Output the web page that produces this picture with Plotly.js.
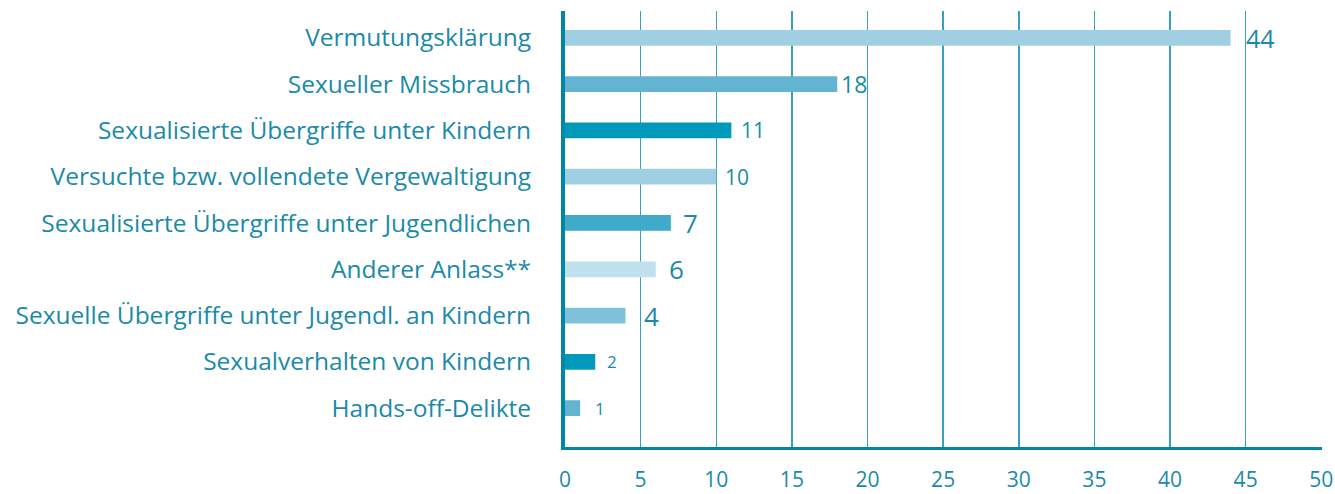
<!DOCTYPE html>
<html><head><meta charset="utf-8">
<script src="https://cdn.plot.ly/plotly-3.0.1.min.js"></script>
<style>html,body{margin:0;padding:0;background:#fff}#c{width:1335px;height:494px}</style>
</head><body><div id="c"></div>
<script>
const categories = [
  "Vermutungsklärung",
  "Sexueller Missbrauch",
  "Sexualisierte Übergriffe unter Kindern",
  "Versuchte bzw. vollendete Vergewaltigung",
  "Sexualisierte Übergriffe unter Jugendlichen",
  "Anderer Anlass**",
  "Sexuelle Übergriffe unter Jugendl. an Kindern",
  "Sexualverhalten von Kindern",
  "Hands-off-Delikte"
];
const values = [44, 18, 11, 10, 7, 6, 4, 2, 1];
const tickValues = [0, 5, 10, 15, 20, 25, 30, 35, 40, 45, 50];
const tickLabels = ["0", "5", "10", "15", "20", "25", "30", "35", "40", "45", "50"];

// styles
const barColors = ["#a0cfe3", "#62b4d0", "#0099bc", "#a0cfe3", "#40aacb", "#bfe0ed", "#80c1da", "#0099bc", "#62b4d0"];
const labelSizes = [25, 23, 21, 21, 26, 26, 26, 17, 17];
const labelGaps = [14, 2, 8, 7, 10, 11, 16, 10, 13];

const textColor = "#1a8aaa";
const axisColor = "#0086a8";
const fontFamily = "Open Sans, sans-serif";

const trace = {
  type: "bar",
  orientation: "h",
  y: categories,
  x: values,
  width: 0.34,
  marker: {color: barColors},
  hoverinfo: "none",
  cliponaxis: false
};

const annotations = values.map((v, i) => ({
  x: v, y: categories[i], xref: "x", yref: "y",
  text: String(v), showarrow: false, xanchor: "left", yanchor: "middle",
  xshift: labelGaps[i], yshift: 0,
  font: {family: fontFamily, size: labelSizes[i], color: textColor}
}));

const layout = {
  width: 1335, height: 494,
  margin: {l: 565, r: 13, t: 11, b: 47},
  paper_bgcolor: "#fff", plot_bgcolor: "#fff",
  showlegend: false,
  xaxis: {
    range: [0, 50.05],
    tickvals: tickValues, ticktext: tickLabels,
    showgrid: true, gridcolor: "#3a9fbe", gridwidth: 1.5,
    zeroline: false,
    showline: true, linecolor: axisColor, linewidth: 3,
    ticks: "", ticklabelstandoff: 12,
    tickfont: {family: fontFamily, size: 21, color: textColor},
    fixedrange: true
  },
  yaxis: {
    type: "category",
    range: [8.84, -0.58],
    showgrid: false, zeroline: false,
    showline: true, linecolor: axisColor, linewidth: 4,
    ticks: "", ticklabelstandoff: 25,
    tickfont: {family: fontFamily, size: 24.5, color: textColor},
    fixedrange: true
  },
  annotations: annotations
};

Plotly.newPlot("c", [trace], layout, {displayModeBar: false, staticPlot: true});
</script>
</body></html>
